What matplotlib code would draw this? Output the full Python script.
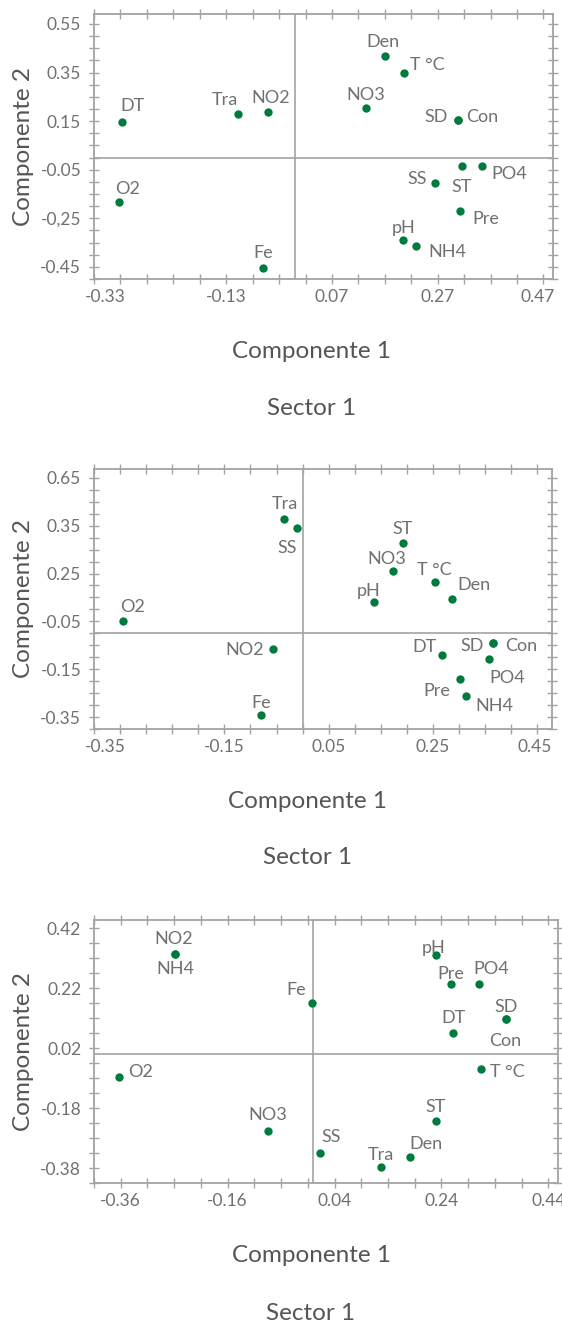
import matplotlib
matplotlib.use('Agg')
import matplotlib.pyplot as plt
from matplotlib.transforms import ScaledTranslation
import numpy as np

plt.rcParams['font.family'] = ['Lato', 'DejaVu Sans']

W, H = 562, 1327
GREY = '#707070'
LINE = '#a3a3a3'
GREEN = '#007a3d'

# Sector 1 - panel 1
names1 = ['DT', 'O2', 'Tra', 'NO2', 'Fe', 'Den', 'T °C', 'NO3', 'SD', 'Con',
          'ST', 'PO4', 'SS', 'Pre', 'pH', 'NH4']
x1 = [-0.327, -0.332, -0.108, -0.051, -0.061, 0.170, 0.207, 0.134, 0.308, 0.308,
      0.315, 0.354, 0.264, 0.313, 0.205, 0.229]
y1 = [0.147, -0.184, 0.180, 0.187, -0.455, 0.420, 0.347, 0.203, 0.155, 0.155,
      -0.035, -0.035, -0.104, -0.222, -0.339, -0.365]
yticks1 = [0.55, 0.35, 0.15, -0.05, -0.25, -0.45]
ylabels1 = ['0.55', '0.35', '0.15', '-0.05', '-0,25', '-0.45']
xticks1 = [-0.33, -0.13, 0.07, 0.27, 0.47]

# panel 2
names2 = ['Tra', 'SS', 'O2', 'NO2', 'Fe', 'ST', 'NO3', 'T °C', 'Den', 'pH',
          'DT', 'SD', 'Con', 'PO4', 'Pre', 'NH4']
x2 = [-0.035, -0.011, -0.344, -0.057, -0.080, 0.192, 0.174, 0.253, 0.286, 0.136,
      0.267, 0.365, 0.365, 0.358, 0.301, 0.314]
y2 = [0.480, 0.440, 0.052, -0.067, -0.343, 0.376, 0.261, 0.216, 0.144, 0.132,
      -0.091, -0.039, -0.039, -0.109, -0.192, -0.260]
yticks2 = [0.65, 0.45, 0.25, 0.05, -0.15, -0.35]
ylabels2 = ['0.65', '0.35', '0.25', '-0.05', '-0.15', '-0.35']
xticks2 = [-0.35, -0.15, 0.05, 0.25, 0.45]

# panel 3
names3 = ['NO2', 'NH4', 'Fe', 'O2', 'NO3', 'SS', 'Tra', 'Den', 'ST', 'pH',
          'Pre', 'PO4', 'SD', 'Con', 'DT', 'T °C']
x3 = [-0.258, -0.258, -0.003, -0.364, -0.085, 0.013, 0.126, 0.182, 0.229, 0.229,
      0.258, 0.311, 0.360, 0.360, 0.262, 0.314]
y3 = [0.333, 0.333, 0.172, -0.077, -0.258, -0.331, -0.378, -0.343, -0.224, 0.331,
      0.234, 0.234, 0.116, 0.116, 0.070, -0.048]
yticks3 = [0.42, 0.22, 0.02, -0.18, -0.38]
ylabels3 = ['0.42', '0.22', '0.02', '-0.18', '-0.38']
xticks3 = [-0.36, -0.16, 0.04, 0.24, 0.44]

# label placement: (dx px, dy px downward, ha)
off1 = {'DT': (10, -16, 'center'), 'O2': (8, -13, 'center'), 'Tra': (-13, -14, 'center'),
        'NO2': (3, -14, 'center'), 'Fe': (0, -15, 'center'), 'Den': (-2, -14, 'center'),
        'T °C': (6, -8, 'left'), 'NO3': (0, -13, 'center'), 'SD': (-10, -3, 'right'),
        'Con': (8, -3, 'left'), 'ST': (0, 21, 'center'), 'PO4': (9, 8, 'left'),
        'SS': (-8, -4, 'right'), 'Pre': (12, 8, 'left'), 'pH': (0, -12, 'center'),
        'NH4': (12, 6, 'left')}
off2 = {'Tra': (0, -15, 'center'), 'SS': (-10, 20, 'center'), 'O2': (9, -14, 'center'),
        'NO2': (-9, 1, 'right'), 'Fe': (0, -12, 'center'), 'ST': (0, -14, 'center'),
        'NO3': (-7, -12, 'center'), 'T °C': (0, -12, 'center'), 'Den': (6, -14, 'left'),
        'pH': (-5, -11, 'center'), 'DT': (-5, -8, 'right'), 'SD': (-9, 3, 'right'),
        'Con': (12, 3, 'left'), 'PO4': (0, 19, 'left'), 'Pre': (-9, 12, 'right'),
        'NH4': (9, 10, 'left')}
off3 = {'NO2': (-2, -15, 'center'), 'NH4': (0, 15, 'center'), 'Fe': (-6, -13, 'right'),
        'O2': (10, -5, 'left'), 'NO3': (0, -16, 'center'), 'SS': (11, -16, 'center'),
        'Tra': (0, -12, 'center'), 'Den': (15, -13, 'center'), 'ST': (0, -14, 'center'),
        'pH': (-2, -7, 'center'), 'Pre': (0, -10, 'center'), 'PO4': (12, -15, 'center'),
        'SD': (0, -12, 'center'), 'Con': (0, 22, 'center'), 'DT': (0, -15, 'center'),
        'T °C': (9, 3, 'left')}

panels = [
    dict(rect=(94, 14, 553, 279), xlim=(-0.356, 0.488), ylim=(-0.487, 0.591),
         names=names1, x=x1, y=y1, off=off1, xt=xticks1, yt=yticks1, yl=ylabels1,
         shift=(-15, -6), xlab_y=352, title_y=408, xc=312),
    dict(rect=(94, 469, 552, 729), xlim=(-0.380, 0.478), ylim=(-0.374, 0.687),
         names=names2, x=x2, y=y2, off=off2, xt=xticks2, yt=yticks2, yl=ylabels2,
         shift=(-15, -3), xlab_y=802, title_y=858, xc=308),
    dict(rect=(94, 920, 558, 1183), xlim=(-0.390, 0.458), ylim=(-0.406, 0.448),
         names=names3, x=x3, y=y3, off=off3, xt=xticks3, yt=yticks3, yl=ylabels3,
         shift=(0, 0), xlab_y=1256, title_y=1313, xc=311),
]

fig = plt.figure(figsize=(W / 100, H / 100), dpi=100)

for p in panels:
    l, t, r, b = p['rect']
    ax = fig.add_axes([l / W, 1 - b / H, (r - l) / W, (b - t) / H])
    ax.set_xlim(*p['xlim'])
    ax.set_ylim(*p['ylim'])
    ax.axhline(0, color=LINE, lw=1.2, zorder=1)
    ax.axvline(0, color=LINE, lw=1.2, zorder=1)
    ax.scatter(p['x'], p['y'], s=36, color=GREEN, zorder=3, linewidths=0)
    for n, xv, yv in zip(p['names'], p['x'], p['y']):
        dx, dy, ha = p['off'][n]
        ax.annotate(n, (xv, yv), xytext=(dx, -dy), textcoords='offset pixels',
                    ha=ha, va='center', fontsize=13, color=GREY)
    ax.set_xticks(p['xt'])
    ax.set_xticklabels([f'{v:.2f}' for v in p['xt']])
    ax.set_xticks(np.arange(p['xt'][0] - 0.05, p['xlim'][1], 0.05), minor=True)
    ax.set_yticks(p['yt'])
    ax.set_yticklabels(p['yl'])
    ax.set_yticks(np.arange(p['yt'][-1] - 0.05, p['ylim'][1], 0.05), minor=True)
    for which in ('major', 'minor'):
        ax.tick_params(which=which, direction='inout', length=6.5, width=1,
                       color=LINE, top=True, right=True, labelsize=12.5,
                       labelcolor=GREY)
    ax.tick_params(axis='x', pad=4)
    ax.tick_params(axis='y', pad=6)
    # end labels sit slightly left of their ticks in the original
    xl = ax.get_xticklabels()
    for lab, sh in ((xl[0], p['shift'][0]), (xl[-1], p['shift'][1])):
        lab.set_transform(lab.get_transform() +
                          ScaledTranslation(sh / 100, 0, fig.dpi_scale_trans))
    for s in ax.spines.values():
        s.set_color(LINE)
        s.set_linewidth(1.3)
    ax.set_ylabel('Componente 2', fontsize=17.5, color='#555555')
    ax.yaxis.set_label_coords((34 - l) / (r - l), 0.5)
    fig.text(p['xc'] / W, 1 - p['xlab_y'] / H, 'Componente 1', fontsize=17.5,
             color='#555555', ha='center', va='center')
    fig.text(p['xc'] / W, 1 - p['title_y'] / H, 'Sector 1', fontsize=17.5,
             color='#555555', ha='center', va='center')

fig.savefig('out.png', dpi=100)
